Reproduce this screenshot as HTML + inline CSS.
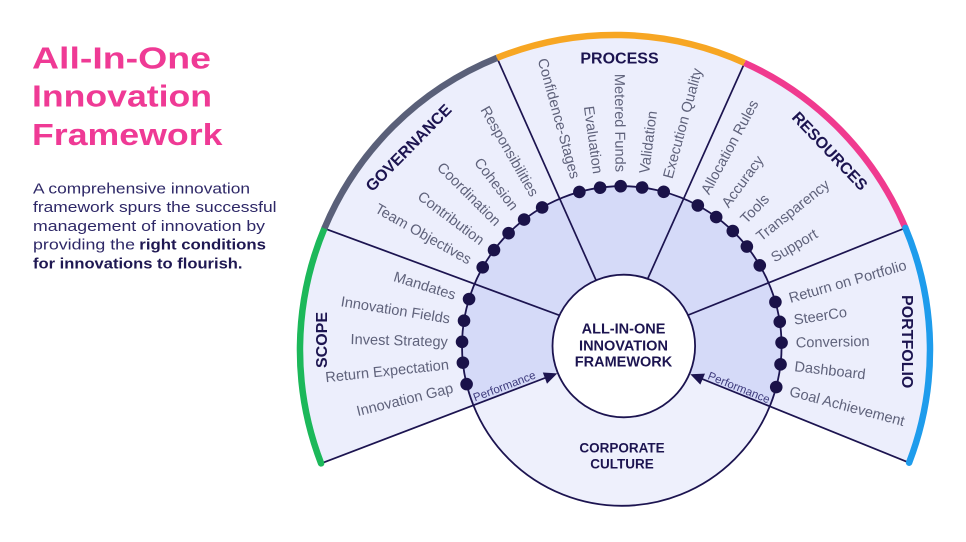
<!DOCTYPE html>
<html><head><meta charset="utf-8"><style>
html,body{margin:0;padding:0;background:#fff;width:966px;height:542px;overflow:hidden}
svg{position:absolute;left:0;top:0}
</style></head><body>
<svg width="966" height="542" viewBox="0 0 966 542" xmlns="http://www.w3.org/2000/svg" font-family="'Liberation Sans', Arial, sans-serif">
<!-- Left text block -->
<g fill="#ef3a95" font-weight="bold" font-size="30.5">
<text x="32" y="68.3" textLength="179" lengthAdjust="spacingAndGlyphs">All-In-One</text>
<text x="32" y="106.7" textLength="180" lengthAdjust="spacingAndGlyphs">Innovation</text>
<text x="32" y="145" textLength="190.5" lengthAdjust="spacingAndGlyphs">Framework</text>
</g>
<g font-size="15" fill="#2e2867">
<text x="33" y="193.3" textLength="217" lengthAdjust="spacingAndGlyphs">A comprehensive innovation</text>
<text x="33" y="212.2" textLength="243.5" lengthAdjust="spacingAndGlyphs">framework spurs the successful</text>
<text x="33" y="231" textLength="232" lengthAdjust="spacingAndGlyphs">management of innovation by</text>
<text x="33" y="249.6" textLength="102" lengthAdjust="spacingAndGlyphs">providing the</text>
<text x="139.3" y="249.6" textLength="126.7" lengthAdjust="spacingAndGlyphs" font-weight="bold" fill="#1f1852">right conditions</text>
<text x="33" y="268.4" textLength="209.5" lengthAdjust="spacingAndGlyphs" font-weight="bold" fill="#1f1852">for innovations to flourish.</text>
</g>

<!-- Fills -->
<path d="M623.5 346 L321.1 463.4 A315 315 0 1 1 909.1 462.7 Z" fill="#eceefc"/>
<path d="M623.5 346 L473.1 405 A159.8 159.8 0 1 1 770 406.3 Z" fill="#d5daf8"/>
<path d="M623.5 346 L473.1 405 A159.8 159.8 0 0 0 770 406.3 Z" fill="#eef0fc"/>

<!-- Dividers -->
<g stroke="#1c1450" stroke-width="1.7" fill="none">
<line x1="324.4" y1="228.4" x2="623.5" y2="339"/>
<line x1="497" y1="57.9" x2="625.3" y2="346"/>
<line x1="744.6" y1="62.9" x2="617.5" y2="346"/>
<line x1="905.4" y1="227.9" x2="623.5" y2="341"/>
<line x1="321.1" y1="463.4" x2="546" y2="377.6"/>
<line x1="909.1" y1="462.7" x2="701.5" y2="378.7"/>
<circle cx="621.8" cy="346" r="159.8" stroke-width="1.8"/>
</g>
<circle cx="623.8" cy="346" r="71.3" fill="#fff" stroke="#1c1450" stroke-width="1.8"/>

<!-- Arrowheads -->
<polygon points="557.3,373.4 547.0,383.7 542.8,372.5" fill="#1c1450"/>
<polygon points="690.3,374.3 705.0,373.6 700.3,384.6" fill="#1c1450"/>

<!-- Dots -->
<g fill="#1a1249">
<circle cx="781.6" cy="346" r="6.3" transform="rotate(-162.9 621.8 346)"/>
<circle cx="781.6" cy="346" r="6.3" transform="rotate(-170.9 621.8 346)"/>
<circle cx="781.6" cy="346" r="6.3" transform="rotate(-178.5 621.8 346)"/>
<circle cx="781.6" cy="346" r="6.3" transform="rotate(-186 621.8 346)"/>
<circle cx="781.6" cy="346" r="6.3" transform="rotate(-193.8 621.8 346)"/>
<circle cx="781.6" cy="346" r="6.3" transform="rotate(-150.5 621.8 346)"/>
<circle cx="781.6" cy="346" r="6.3" transform="rotate(-143.1 621.8 346)"/>
<circle cx="781.6" cy="346" r="6.3" transform="rotate(-135.1 621.8 346)"/>
<circle cx="781.6" cy="346" r="6.3" transform="rotate(-127.7 621.8 346)"/>
<circle cx="781.6" cy="346" r="6.3" transform="rotate(-119.9 621.8 346)"/>
<circle cx="781.6" cy="346" r="6.3" transform="rotate(-105.4 621.8 346)"/>
<circle cx="781.6" cy="346" r="6.3" transform="rotate(-97.8 621.8 346)"/>
<circle cx="781.6" cy="346" r="6.3" transform="rotate(-90.4 621.8 346)"/>
<circle cx="781.6" cy="346" r="6.3" transform="rotate(-82.7 621.8 346)"/>
<circle cx="781.6" cy="346" r="6.3" transform="rotate(-74.8 621.8 346)"/>
<circle cx="781.6" cy="346" r="6.3" transform="rotate(-61.6 621.8 346)"/>
<circle cx="781.6" cy="346" r="6.3" transform="rotate(-53.8 621.8 346)"/>
<circle cx="781.6" cy="346" r="6.3" transform="rotate(-46 621.8 346)"/>
<circle cx="781.6" cy="346" r="6.3" transform="rotate(-38.5 621.8 346)"/>
<circle cx="781.6" cy="346" r="6.3" transform="rotate(-30.3 621.8 346)"/>
<circle cx="781.6" cy="346" r="6.3" transform="rotate(-16 621.8 346)"/>
<circle cx="781.6" cy="346" r="6.3" transform="rotate(-8.7 621.8 346)"/>
<circle cx="781.6" cy="346" r="6.3" transform="rotate(-1.2 621.8 346)"/>
<circle cx="781.6" cy="346" r="6.3" transform="rotate(6.6 621.8 346)"/>
<circle cx="781.6" cy="346" r="6.3" transform="rotate(14.9 621.8 346)"/>
</g>

<!-- Colored outer arcs -->
<g fill="none" stroke-width="6.5">
<path d="M321.1 463.4 A315 315 0 0 1 324.4 228.4" stroke="#1cb85a" stroke-linecap="round"/>
<path d="M324.4 228.4 A315 315 0 0 1 497 57.9" stroke="#5a6079"/>
<path d="M497 57.9 A315 315 0 0 1 744.6 62.9" stroke="#f7a623"/>
<path d="M744.6 62.9 A315 315 0 0 1 905.4 227.9" stroke="#f03a8f"/>
<path d="M905.4 227.9 A315 315 0 0 1 909.1 462.7" stroke="#1e9cec" stroke-linecap="round"/>
</g>

<!-- Item labels -->
<g font-size="14.6" fill="#5f627b">
<text text-anchor="end" dy="0.35em" transform="translate(621.8 346) rotate(-162.9) translate(174 0) rotate(180)">Mandates</text>
<text text-anchor="end" dy="0.35em" transform="translate(621.8 346) rotate(-170.9) translate(174 0) rotate(180)">Innovation Fields</text>
<text text-anchor="end" dy="0.35em" transform="translate(621.8 346) rotate(-178.5) translate(174 0) rotate(180)">Invest Strategy</text>
<text text-anchor="end" dy="0.35em" transform="translate(621.8 346) rotate(-186) translate(174 0) rotate(180)">Return Expectation</text>
<text text-anchor="end" dy="0.35em" transform="translate(621.8 346) rotate(-193.8) translate(174 0) rotate(180)">Innovation Gap</text>
<text text-anchor="end" dy="0.35em" transform="translate(621.8 346) rotate(-150.5) translate(174 0) rotate(180)">Team Objectives</text>
<text text-anchor="end" dy="0.35em" transform="translate(621.8 346) rotate(-143.1) translate(174 0) rotate(180)">Contribution</text>
<text text-anchor="end" dy="0.35em" transform="translate(621.8 346) rotate(-135.1) translate(174 0) rotate(180)">Coordination</text>
<text text-anchor="end" dy="0.35em" transform="translate(621.8 346) rotate(-127.7) translate(174 0) rotate(180)">Cohesion</text>
<text text-anchor="end" dy="0.35em" transform="translate(621.8 346) rotate(-119.9) translate(174 0) rotate(180)">Responsibilities</text>
<text text-anchor="end" dy="0.35em" transform="translate(621.8 346) rotate(-105.4) translate(174 0) rotate(180)">Confidence-Stages</text>
<text text-anchor="end" dy="0.35em" transform="translate(621.8 346) rotate(-97.8) translate(174 0) rotate(180)">Evaluation</text>
<text text-anchor="end" dy="0.35em" transform="translate(621.8 346) rotate(-90.4) translate(174 0) rotate(180)">Metered Funds</text>
<text dy="0.35em" transform="translate(621.8 346) rotate(-82.7) translate(174 0)">Validation</text>
<text dy="0.35em" transform="translate(621.8 346) rotate(-74.8) translate(174 0)">Execution Quality</text>
<text dy="0.35em" transform="translate(621.8 346) rotate(-61.6) translate(174 0)">Allocation Rules</text>
<text dy="0.35em" transform="translate(621.8 346) rotate(-53.8) translate(174 0)">Accuracy</text>
<text dy="0.35em" transform="translate(621.8 346) rotate(-46) translate(174 0)">Tools</text>
<text dy="0.35em" transform="translate(621.8 346) rotate(-38.5) translate(174 0)">Transparency</text>
<text dy="0.35em" transform="translate(621.8 346) rotate(-30.3) translate(174 0)">Support</text>
<text dy="0.35em" transform="translate(621.8 346) rotate(-16) translate(174 0)">Return on Portfolio</text>
<text dy="0.35em" transform="translate(621.8 346) rotate(-8.7) translate(174 0)">SteerCo</text>
<text dy="0.35em" transform="translate(621.8 346) rotate(-1.2) translate(174 0)">Conversion</text>
<text dy="0.35em" transform="translate(621.8 346) rotate(6.6) translate(174 0)">Dashboard</text>
<text dy="0.35em" transform="translate(621.8 346) rotate(14.9) translate(174 0)">Goal Achievement</text>
</g>

<!-- Section titles -->
<g font-size="16" font-weight="bold" fill="#1c1450" text-anchor="middle">
<text x="619.5" y="63.3">PROCESS</text>
<text dy="0.358em" transform="translate(408.3 147.5) rotate(-45.5)">GOVERNANCE</text>
<text dy="0.358em" transform="translate(830 150.8) rotate(46.5)">RESOURCES</text>
<text dy="0.358em" transform="translate(321.5 340) rotate(-90)">SCOPE</text>
<text dy="0.358em" transform="translate(907.5 341.7) rotate(90)">PORTFOLIO</text>
</g>

<!-- Center texts -->
<g font-weight="bold" fill="#1c1450" text-anchor="middle">
<text x="623.5" y="333.7" font-size="14.5">ALL-IN-ONE</text>
<text x="623.5" y="350.3" font-size="14.5">INNOVATION</text>
<text x="623.5" y="366.6" font-size="14.5">FRAMEWORK</text>
<text x="622" y="452.3" font-size="13.5">CORPORATE</text>
<text x="622" y="468.3" font-size="13.5">CULTURE</text>
</g>

<!-- Performance labels -->
<g font-size="11.5" fill="#3d3a7c">
<text transform="translate(475 401.5) rotate(-20.9)">Performance</text>
<text transform="translate(707 378.8) rotate(22)">Performance</text>
</g>
</svg>
</body></html>
